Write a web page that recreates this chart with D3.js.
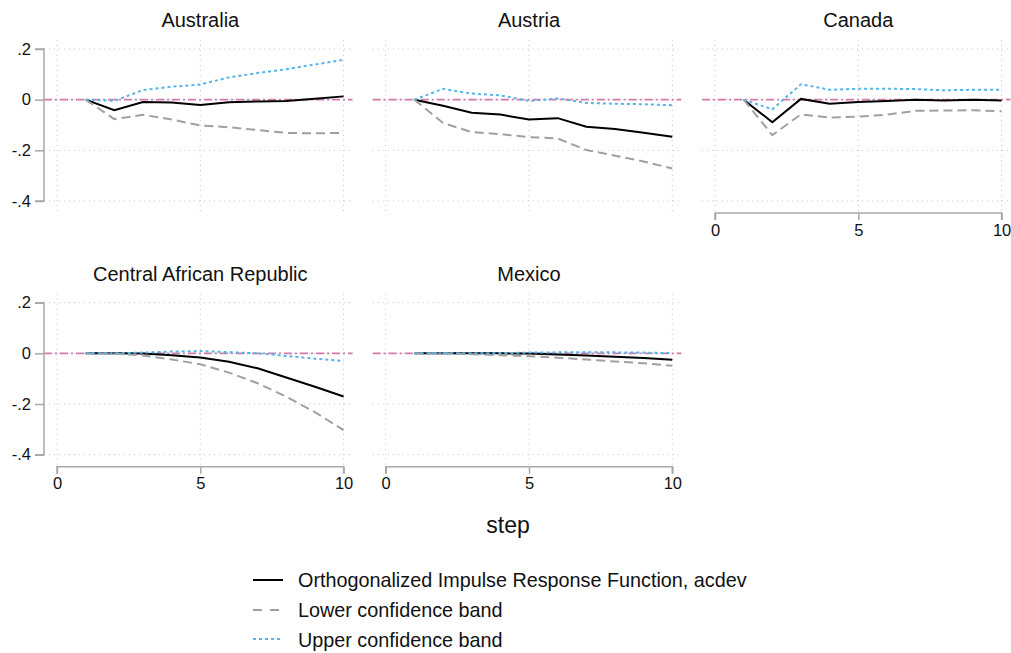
<!DOCTYPE html>
<html>
<head>
<meta charset="utf-8">
<script src="https://cdn.jsdelivr.net/npm/d3@7"></script>
<style>
  html, body { margin: 0; padding: 0; background: #fff; }
  svg { display: block; font-family: "Liberation Sans", Arial, Helvetica, sans-serif; }
</style>
</head>
<body>
<svg id="chart" width="1011" height="653"></svg>
<script>
// ---- data ----
const steps = [1, 2, 3, 4, 5, 6, 7, 8, 9, 10];
const countries = ["Australia", "Austria", "Canada", "Central African Republic", "Mexico"];
const xTicks = [0, 5, 10];
const yTicks = [0.2, 0, -0.2, -0.4];
const yTickLabels = [".2", "0", "-.2", "-.4"];
const xTickLabels = ["0", "5", "10"];
const legendLabels = ["Orthogonalized Impulse Response Function, acdev", "Lower confidence band", "Upper confidence band"];

const irfAustralia = [0, -0.042, -0.009, -0.011, -0.021, -0.010, -0.007, -0.005, 0.004, 0.013];
const lowAustralia = [0, -0.077, -0.060, -0.078, -0.102, -0.109, -0.120, -0.131, -0.133, -0.131];
const upAustralia  = [0, -0.005, 0.038, 0.051, 0.060, 0.088, 0.105, 0.120, 0.139, 0.157];

const irfAustria = [0, -0.024, -0.052, -0.059, -0.078, -0.073, -0.107, -0.116, -0.131, -0.146];
const lowAustria = [0, -0.092, -0.128, -0.136, -0.148, -0.153, -0.199, -0.221, -0.244, -0.272];
const upAustria  = [0, 0.043, 0.024, 0.017, -0.005, 0.005, -0.013, -0.016, -0.018, -0.022];

const irfCanada = [0, -0.089, 0.003, -0.016, -0.009, -0.005, 0.000, -0.003, 0.000, -0.003];
const lowCanada = [0, -0.140, -0.058, -0.071, -0.067, -0.059, -0.044, -0.043, -0.042, -0.046];
const upCanada  = [0, -0.038, 0.061, 0.039, 0.043, 0.043, 0.042, 0.037, 0.039, 0.039];

const irfCAR = [0, 0.000, -0.001, -0.007, -0.016, -0.033, -0.059, -0.095, -0.132, -0.170];
const lowCAR = [0, -0.001, -0.008, -0.024, -0.043, -0.076, -0.118, -0.171, -0.232, -0.303];
const upCAR  = [0, 0.000, 0.003, 0.007, 0.009, 0.005, 0.000, -0.010, -0.021, -0.030];

const irfMexico = [0, 0.000, 0.000, 0.000, -0.001, -0.004, -0.008, -0.013, -0.018, -0.025];
const lowMexico = [0, 0.000, -0.003, -0.007, -0.011, -0.017, -0.024, -0.032, -0.039, -0.049];
const upMexico  = [0, 0.000, 0.000, 0.001, 0.003, 0.004, 0.004, 0.004, 0.003, 0.001];

const seriesByCountry = [
  [irfAustralia, lowAustralia, upAustralia],
  [irfAustria, lowAustria, upAustria],
  [irfCanada, lowCanada, upCanada],
  [irfCAR, lowCAR, upCAR],
  [irfMexico, lowMexico, upMexico]
];

// ---- styles ----
const seriesStyle = [
  { stroke: "#000000", width: 2, dash: null },
  { stroke: "#a0a0a0", width: 2, dash: "9,5" },
  { stroke: "#56b4e9", width: 2, dash: "3,3" }
];

// ---- layout ----
const colX0 = [57, 385.7, 715];
const rowTop = [49, 302.7];
const plotW = 286.6, plotH = 152;
const panels = [
  { col: 0, row: 0, yAxis: true, xAxis: false },
  { col: 1, row: 0, yAxis: false, xAxis: false },
  { col: 2, row: 0, yAxis: false, xAxis: true },
  { col: 0, row: 1, yAxis: true, xAxis: true },
  { col: 1, row: 1, yAxis: false, xAxis: true }
];

const svg = d3.select("#chart");

panels.forEach((p, i) => {
  const x0 = colX0[p.col];
  const yTop = rowTop[p.row];
  const x = d3.scaleLinear().domain([0, 10]).range([x0, x0 + plotW]);
  const y = d3.scaleLinear().domain([-0.4, 0.2]).range([yTop + plotH, yTop]);
  const left = x0 - 13, right = x0 + plotW + 9;
  const top = yTop - 9, bottom = yTop + plotH + 12;
  const g = svg.append("g");

  // grid lines
  g.selectAll(".hg").data(yTicks).join("line")
    .attr("x1", left).attr("x2", right)
    .attr("y1", d => y(d)).attr("y2", d => y(d))
    .attr("stroke", "#c4c4c4").attr("stroke-width", 1).attr("stroke-dasharray", "1,4");
  g.selectAll(".vg").data(xTicks).join("line")
    .attr("x1", d => x(d)).attr("x2", d => x(d))
    .attr("y1", top).attr("y2", bottom)
    .attr("stroke", "#c4c4c4").attr("stroke-width", 1).attr("stroke-dasharray", "1,4");

  // zero reference line
  g.append("line")
    .attr("x1", left).attr("x2", right)
    .attr("y1", y(0)).attr("y2", y(0))
    .attr("stroke", "#d27ba9").attr("stroke-width", 1.6).attr("stroke-dasharray", "8,3,2,3");

  // series
  const line = d3.line().x((d, k) => x(steps[k])).y(d => y(d));
  seriesByCountry[i].forEach((vals, s) => {
    const st = seriesStyle[s];
    g.append("path").datum(vals)
      .attr("d", line)
      .attr("fill", "none")
      .attr("stroke", st.stroke)
      .attr("stroke-width", st.width)
      .attr("stroke-dasharray", st.dash)
      .attr("stroke-linejoin", "miter");
  });

  // y axis
  if (p.yAxis) {
    const ax = d3.axisLeft(y).tickValues(yTicks)
      .tickFormat((d, k) => yTickLabels[k]).tickSize(9).tickPadding(4);
    const ag = svg.append("g").attr("transform", `translate(${left},0)`).call(ax);
    ag.select(".domain").attr("stroke", "#a8a8a8").attr("stroke-width", 1.5)
      .attr("d", `M-9,${y(0.2)}H0V${y(-0.4)}H-9`);
    ag.selectAll(".tick line").attr("stroke", "#a8a8a8").attr("stroke-width", 1.5);
    ag.selectAll(".tick text").attr("font-size", 16.5).attr("fill", "#111")
      .attr("font-family", "'Liberation Sans', Arial, sans-serif");
  }
  // x axis
  if (p.xAxis) {
    const ax = d3.axisBottom(x).tickValues(xTicks)
      .tickFormat((d, k) => xTickLabels[k]).tickSize(7).tickPadding(4);
    const ag = svg.append("g").attr("transform", `translate(0,${bottom})`).call(ax);
    ag.select(".domain").attr("stroke", "#a8a8a8").attr("stroke-width", 1.5)
      .attr("d", `M${x(0)},7V0H${x(10)}V7`);
    ag.selectAll(".tick line").attr("stroke", "#a8a8a8").attr("stroke-width", 1.5);
    ag.selectAll(".tick text").attr("font-size", 16.5).attr("fill", "#111")
      .attr("font-family", "'Liberation Sans', Arial, sans-serif");
  }

  // title
  svg.append("text")
    .attr("x", x(5)).attr("y", p.row === 0 ? 26.5 : 281)
    .attr("text-anchor", "middle")
    .attr("font-size", 20).attr("fill", "#111")
    .text(countries[i]);
});

// x-axis title
svg.append("text").attr("x", 508).attr("y", 533)
  .attr("text-anchor", "middle").attr("font-size", 23).attr("fill", "#111")
  .text("step");

// legend
const legendY = [580, 610, 639];
const legendTextY = [587, 617, 646.5];
legendLabels.forEach((lab, k) => {
  const st = seriesStyle[k];
  svg.append("line")
    .attr("x1", 253).attr("x2", 283)
    .attr("y1", legendY[k]).attr("y2", legendY[k])
    .attr("stroke", st.stroke).attr("stroke-width", st.width)
    .attr("stroke-dasharray", k === 1 ? "9,8" : st.dash);
  svg.append("text")
    .attr("x", 298).attr("y", legendTextY[k])
    .attr("font-size", 19.8).attr("fill", "#111")
    .text(lab);
});
</script>
</body>
</html>
